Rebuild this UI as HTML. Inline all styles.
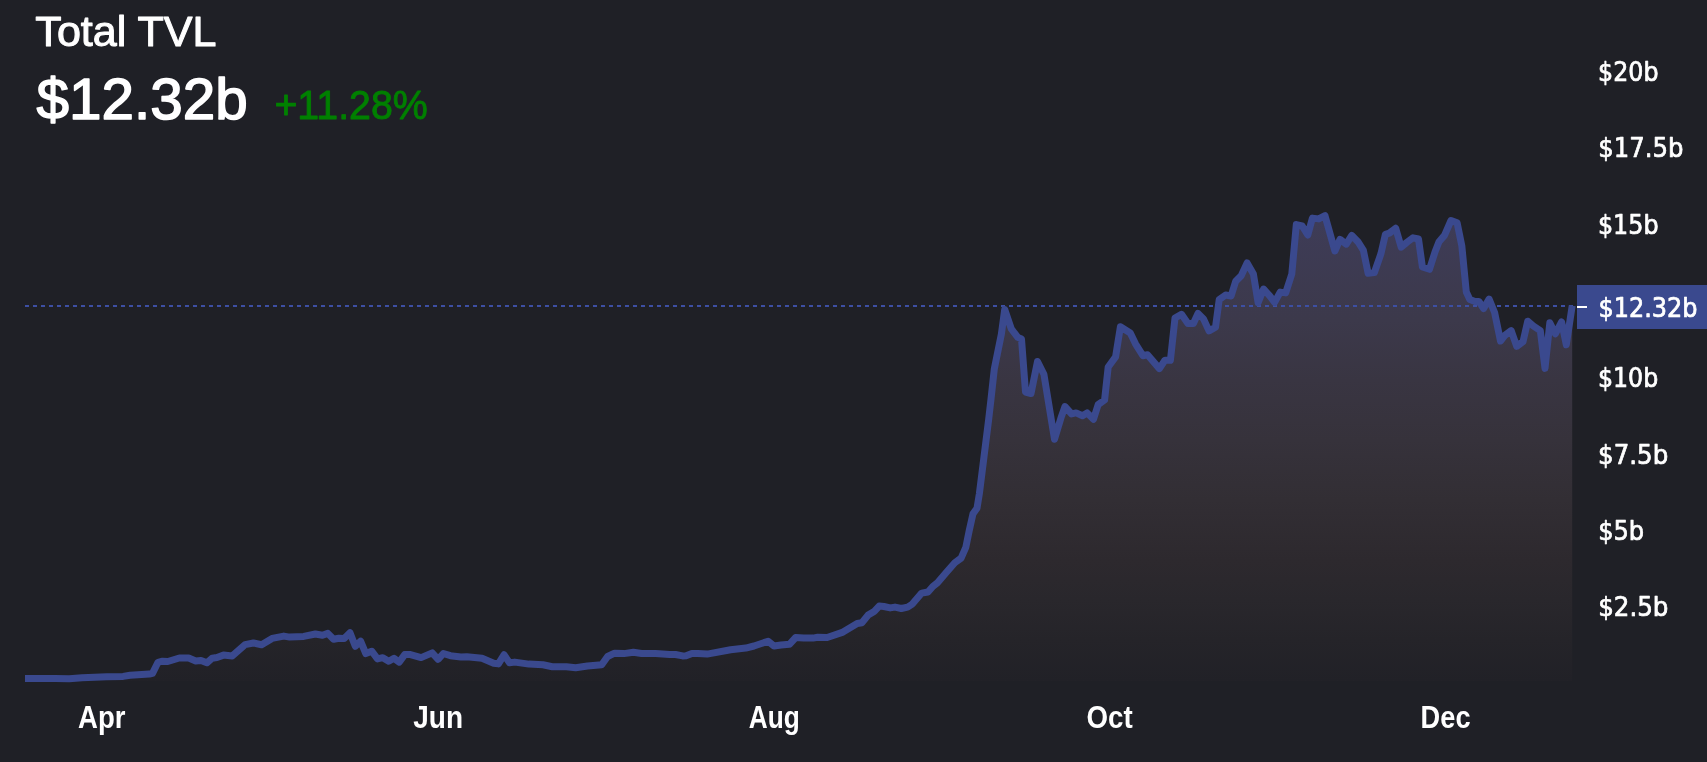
<!DOCTYPE html>
<html><head><meta charset="utf-8"><title>Total TVL</title>
<style>
html,body{margin:0;padding:0;background:#1f2026;}
body{width:1707px;height:762px;overflow:hidden;position:relative;}
svg{position:absolute;left:0;top:0;display:block;}
svg{will-change:transform;}
.hd{font-family:"Liberation Sans",Arial,sans-serif;}
.ax{font-family:"DejaVu Sans Condensed","DejaVu Sans","Liberation Sans",sans-serif;}
.tx{font-family:"Liberation Sans",Arial,sans-serif;font-weight:700;}
</style></head>
<body>
<svg width="1707" height="762" viewBox="0 0 1707 762">
<defs>
<linearGradient id="g" gradientUnits="userSpaceOnUse" x1="0" y1="216" x2="0" y2="681">
<stop offset="0.0000" stop-color="rgb(62,60,88)"/>
<stop offset="0.2237" stop-color="rgb(60,57,75)"/>
<stop offset="0.3527" stop-color="rgb(57,53,66)"/>
<stop offset="0.4817" stop-color="rgb(54,50,59)"/>
<stop offset="0.6108" stop-color="rgb(50,46,52)"/>
<stop offset="0.7398" stop-color="rgb(45,41,46)"/>
<stop offset="0.8258" stop-color="rgb(41,39,44)"/>
<stop offset="0.9118" stop-color="rgb(37,36,41)"/>
<stop offset="1.0000" stop-color="rgb(33,33,39)"/>
</linearGradient>
</defs>
<rect width="1707" height="762" fill="#1f2026"/>
<path d="M25,678.4 L55.1,678.4 L69.2,678.8 L82.1,677.8 L106.7,676.8 L123.1,676.4 L130.1,675.2 L149.4,674.1 L152.5,673.4 L158,662.3 L162.5,661.2 L167.8,661.5 L179.3,658 L188.7,658 L195.7,660.9 L201,660.5 L206.9,662.8 L212.2,658.2 L217,657.5 L223.5,655.1 L232.3,655.9 L245.1,644.6 L253.4,643 L261.6,644.7 L272.1,638.4 L283.8,636.1 L289.7,637.1 L303.7,636.4 L315.4,634 L322.5,635.2 L327.8,633.4 L333.6,639.3 L338.9,638.2 L344.2,638.5 L350,632.8 L355.3,646.3 L360.6,641.2 L365.8,653.6 L371.7,651.2 L377.5,658.9 L382.8,657.7 L388.7,661.2 L394,658.3 L399.2,662.1 L404.7,654.6 L410.5,654.6 L421.1,657.6 L432.2,652.9 L438.1,659.3 L443.4,653.5 L450.4,655.7 L460.9,656.9 L466.8,656.7 L482,658.2 L493.7,663.2 L498.4,663.9 L504,654.8 L509.5,662.8 L514.8,662.1 L528.9,664.1 L543,664.8 L552.3,666.7 L566.4,666.7 L575.7,667.7 L587.5,666 L601.7,664.7 L607.6,656.5 L614.6,653.2 L624,653.6 L633.4,652.3 L641.6,653.5 L655.6,653.6 L669.7,654.5 L675.5,654.5 L682.6,655.9 L686.1,655.7 L691.9,653.4 L697.8,653.4 L707.2,654.1 L730.6,649.8 L745.8,648.1 L754,646 L768.1,641.2 L774,646 L781,645 L789.4,644.3 L795.7,637.5 L803.6,638 L813,638.1 L817.8,637.2 L827.2,637.5 L843,632.1 L857.2,623.5 L861.9,622.7 L868.2,615.1 L874.5,611.2 L879.2,606.1 L883.9,606.5 L890.2,607.9 L895,607.1 L901.3,608.5 L907.6,607.1 L912.3,604.1 L921.7,593.1 L928,592 L932.8,586.5 L937.5,582.8 L946.9,571.8 L954.8,562.8 L961.1,558.1 L965.8,547.4 L969.3,530.3 L973,513.8 L977,508.2 L979.4,493.5 L984,456.8 L988.6,420 L990.9,400 L994.3,369 L1001.4,334 L1004.7,309.5 L1011.3,328.9 L1017.8,337.4 L1021.5,339 L1025.5,392 L1031,393.5 L1037.5,361.5 L1043.9,374.3 L1054.5,439.3 L1061.4,416.6 L1065,406.5 L1071.5,413.9 L1076.1,412.9 L1082.5,415.7 L1087.1,412.9 L1093.5,419.3 L1098.1,404.7 L1104.6,400 L1108.2,367 L1115.6,356.9 L1120.4,326.8 L1130.3,333 L1135.5,343.8 L1142.9,355.7 L1147.5,354.8 L1159.4,368.6 L1164.9,360.3 L1170.4,360.3 L1175,318 L1181.5,314.3 L1187.9,323.5 L1193.4,323.5 L1198,313.4 L1203.5,318.9 L1209,330.9 L1215.5,327.2 L1219.2,299.6 L1225.6,295 L1231.1,296 L1235.7,281.3 L1241.2,275.7 L1247.1,263 L1253.4,274 L1258.1,302.6 L1263.6,289 L1269.9,296.1 L1274.6,302.4 L1280.2,292.1 L1285.7,292.9 L1291.8,274 L1296.3,224.6 L1302.2,226 L1307.8,235 L1312.4,218.1 L1318.7,218.9 L1325,215.7 L1334.9,251 L1340,239.4 L1346.3,244.1 L1351.8,235.4 L1357.9,241.7 L1363.4,250.4 L1368.1,273.2 L1374.4,272.5 L1381,253.5 L1385.4,234.3 L1389.4,233.1 L1395.7,228.3 L1401.2,247.2 L1406.7,242.5 L1413,237.8 L1418.5,239 L1422.4,266.9 L1429.5,269.3 L1435,252 L1439,241.7 L1444.5,235.4 L1451,220.5 L1457.1,222.8 L1461.8,245.7 L1466.3,292 L1469.8,299.5 L1475,301.5 L1478.9,301.5 L1483.6,308.6 L1489.1,299.1 L1494.6,312.5 L1500.5,341 L1504.9,335.4 L1511.2,330.6 L1516.7,346.3 L1523,341.7 L1527.7,321.2 L1533.2,325.9 L1540.3,330.6 L1545,368.4 L1549.8,322.8 L1555.3,333.8 L1561.6,322 L1566.3,344.8 L1572.2,305.8 L1572.2,681 L25,681 Z" fill="url(#g)"/>
<line x1="25" y1="306" x2="1573" y2="306" stroke="#3d4fa3" stroke-width="2" stroke-dasharray="4 4"/>
<path d="M25,678.4 L55.1,678.4 L69.2,678.8 L82.1,677.8 L106.7,676.8 L123.1,676.4 L130.1,675.2 L149.4,674.1 L152.5,673.4 L158,662.3 L162.5,661.2 L167.8,661.5 L179.3,658 L188.7,658 L195.7,660.9 L201,660.5 L206.9,662.8 L212.2,658.2 L217,657.5 L223.5,655.1 L232.3,655.9 L245.1,644.6 L253.4,643 L261.6,644.7 L272.1,638.4 L283.8,636.1 L289.7,637.1 L303.7,636.4 L315.4,634 L322.5,635.2 L327.8,633.4 L333.6,639.3 L338.9,638.2 L344.2,638.5 L350,632.8 L355.3,646.3 L360.6,641.2 L365.8,653.6 L371.7,651.2 L377.5,658.9 L382.8,657.7 L388.7,661.2 L394,658.3 L399.2,662.1 L404.7,654.6 L410.5,654.6 L421.1,657.6 L432.2,652.9 L438.1,659.3 L443.4,653.5 L450.4,655.7 L460.9,656.9 L466.8,656.7 L482,658.2 L493.7,663.2 L498.4,663.9 L504,654.8 L509.5,662.8 L514.8,662.1 L528.9,664.1 L543,664.8 L552.3,666.7 L566.4,666.7 L575.7,667.7 L587.5,666 L601.7,664.7 L607.6,656.5 L614.6,653.2 L624,653.6 L633.4,652.3 L641.6,653.5 L655.6,653.6 L669.7,654.5 L675.5,654.5 L682.6,655.9 L686.1,655.7 L691.9,653.4 L697.8,653.4 L707.2,654.1 L730.6,649.8 L745.8,648.1 L754,646 L768.1,641.2 L774,646 L781,645 L789.4,644.3 L795.7,637.5 L803.6,638 L813,638.1 L817.8,637.2 L827.2,637.5 L843,632.1 L857.2,623.5 L861.9,622.7 L868.2,615.1 L874.5,611.2 L879.2,606.1 L883.9,606.5 L890.2,607.9 L895,607.1 L901.3,608.5 L907.6,607.1 L912.3,604.1 L921.7,593.1 L928,592 L932.8,586.5 L937.5,582.8 L946.9,571.8 L954.8,562.8 L961.1,558.1 L965.8,547.4 L969.3,530.3 L973,513.8 L977,508.2 L979.4,493.5 L984,456.8 L988.6,420 L990.9,400 L994.3,369 L1001.4,334 L1004.7,309.5 L1011.3,328.9 L1017.8,337.4 L1021.5,339 L1025.5,392 L1031,393.5 L1037.5,361.5 L1043.9,374.3 L1054.5,439.3 L1061.4,416.6 L1065,406.5 L1071.5,413.9 L1076.1,412.9 L1082.5,415.7 L1087.1,412.9 L1093.5,419.3 L1098.1,404.7 L1104.6,400 L1108.2,367 L1115.6,356.9 L1120.4,326.8 L1130.3,333 L1135.5,343.8 L1142.9,355.7 L1147.5,354.8 L1159.4,368.6 L1164.9,360.3 L1170.4,360.3 L1175,318 L1181.5,314.3 L1187.9,323.5 L1193.4,323.5 L1198,313.4 L1203.5,318.9 L1209,330.9 L1215.5,327.2 L1219.2,299.6 L1225.6,295 L1231.1,296 L1235.7,281.3 L1241.2,275.7 L1247.1,263 L1253.4,274 L1258.1,302.6 L1263.6,289 L1269.9,296.1 L1274.6,302.4 L1280.2,292.1 L1285.7,292.9 L1291.8,274 L1296.3,224.6 L1302.2,226 L1307.8,235 L1312.4,218.1 L1318.7,218.9 L1325,215.7 L1334.9,251 L1340,239.4 L1346.3,244.1 L1351.8,235.4 L1357.9,241.7 L1363.4,250.4 L1368.1,273.2 L1374.4,272.5 L1381,253.5 L1385.4,234.3 L1389.4,233.1 L1395.7,228.3 L1401.2,247.2 L1406.7,242.5 L1413,237.8 L1418.5,239 L1422.4,266.9 L1429.5,269.3 L1435,252 L1439,241.7 L1444.5,235.4 L1451,220.5 L1457.1,222.8 L1461.8,245.7 L1466.3,292 L1469.8,299.5 L1475,301.5 L1478.9,301.5 L1483.6,308.6 L1489.1,299.1 L1494.6,312.5 L1500.5,341 L1504.9,335.4 L1511.2,330.6 L1516.7,346.3 L1523,341.7 L1527.7,321.2 L1533.2,325.9 L1540.3,330.6 L1545,368.4 L1549.8,322.8 L1555.3,333.8 L1561.6,322 L1566.3,344.8 L1572.2,305.8" fill="none" stroke="#3a498e" stroke-width="7" stroke-linejoin="round" stroke-linecap="butt"/>
<rect x="1577" y="285" width="130" height="44" fill="#3a498e"/>
<rect x="1577" y="306" width="10" height="2" fill="#ffffff"/>
<text class="hd" transform="translate(35.34,45.8) scale(1.0361,1)" font-size="41.6" fill="#ffffff" stroke="#ffffff" stroke-width="1.0" stroke-linejoin="round">Total TVL</text>
<text class="hd" transform="translate(36.51,119.2) scale(1.0342,1)" font-size="56.5" fill="#ffffff" stroke="#ffffff" stroke-width="1.5" stroke-linejoin="round">$12.32b</text>
<text class="hd" transform="translate(274.41,119) scale(0.9641,1)" font-size="40.8" fill="#008000" stroke="#008000" stroke-width="0.9" stroke-linejoin="round">+11.28%</text>
<text class="ax" transform="translate(1598.12,81.1) scale(0.9849,1)" font-size="26.8" fill="#ffffff" stroke="#ffffff" stroke-width="0.7" stroke-linejoin="round">$20b</text>
<text class="ax" transform="translate(1598.29,157.2) scale(1.0090,1)" font-size="26.8" fill="#ffffff" stroke="#ffffff" stroke-width="0.7" stroke-linejoin="round">$17.5b</text>
<text class="ax" transform="translate(1597.97,234) scale(0.9876,1)" font-size="26.8" fill="#ffffff" stroke="#ffffff" stroke-width="0.7" stroke-linejoin="round">$15b</text>
<text class="ax" transform="translate(1598.44,316.9) scale(0.9942,1)" font-size="26.8" fill="#ffffff" stroke="#ffffff" stroke-width="0.7" stroke-linejoin="round">$12.32b</text>
<text class="ax" transform="translate(1597.92,386.8) scale(0.9835,1)" font-size="26.8" fill="#ffffff" stroke="#ffffff" stroke-width="0.7" stroke-linejoin="round">$10b</text>
<text class="ax" transform="translate(1598.09,463.6) scale(1.0168,1)" font-size="26.8" fill="#ffffff" stroke="#ffffff" stroke-width="0.7" stroke-linejoin="round">$7.5b</text>
<text class="ax" transform="translate(1598.15,539.7) scale(0.9999,1)" font-size="26.8" fill="#ffffff" stroke="#ffffff" stroke-width="0.7" stroke-linejoin="round">$5b</text>
<text class="ax" transform="translate(1598.18,616.3) scale(1.0196,1)" font-size="26.8" fill="#ffffff" stroke="#ffffff" stroke-width="0.7" stroke-linejoin="round">$2.5b</text>
<text class="tx" transform="translate(78.1,727.6) scale(0.8894,1)" font-size="31.0" fill="#ffffff">Apr</text>
<text class="tx" transform="translate(413.24,727.6) scale(0.9046,1)" font-size="31.0" fill="#ffffff">Jun</text>
<text class="tx" transform="translate(748.73,727.6) scale(0.8474,1)" font-size="31.0" fill="#ffffff">Aug</text>
<text class="tx" transform="translate(1086.56,727.6) scale(0.8939,1)" font-size="31.0" fill="#ffffff">Oct</text>
<text class="tx" transform="translate(1420.62,727.6) scale(0.8776,1)" font-size="31.0" fill="#ffffff">Dec</text>
</svg>
</body></html>
